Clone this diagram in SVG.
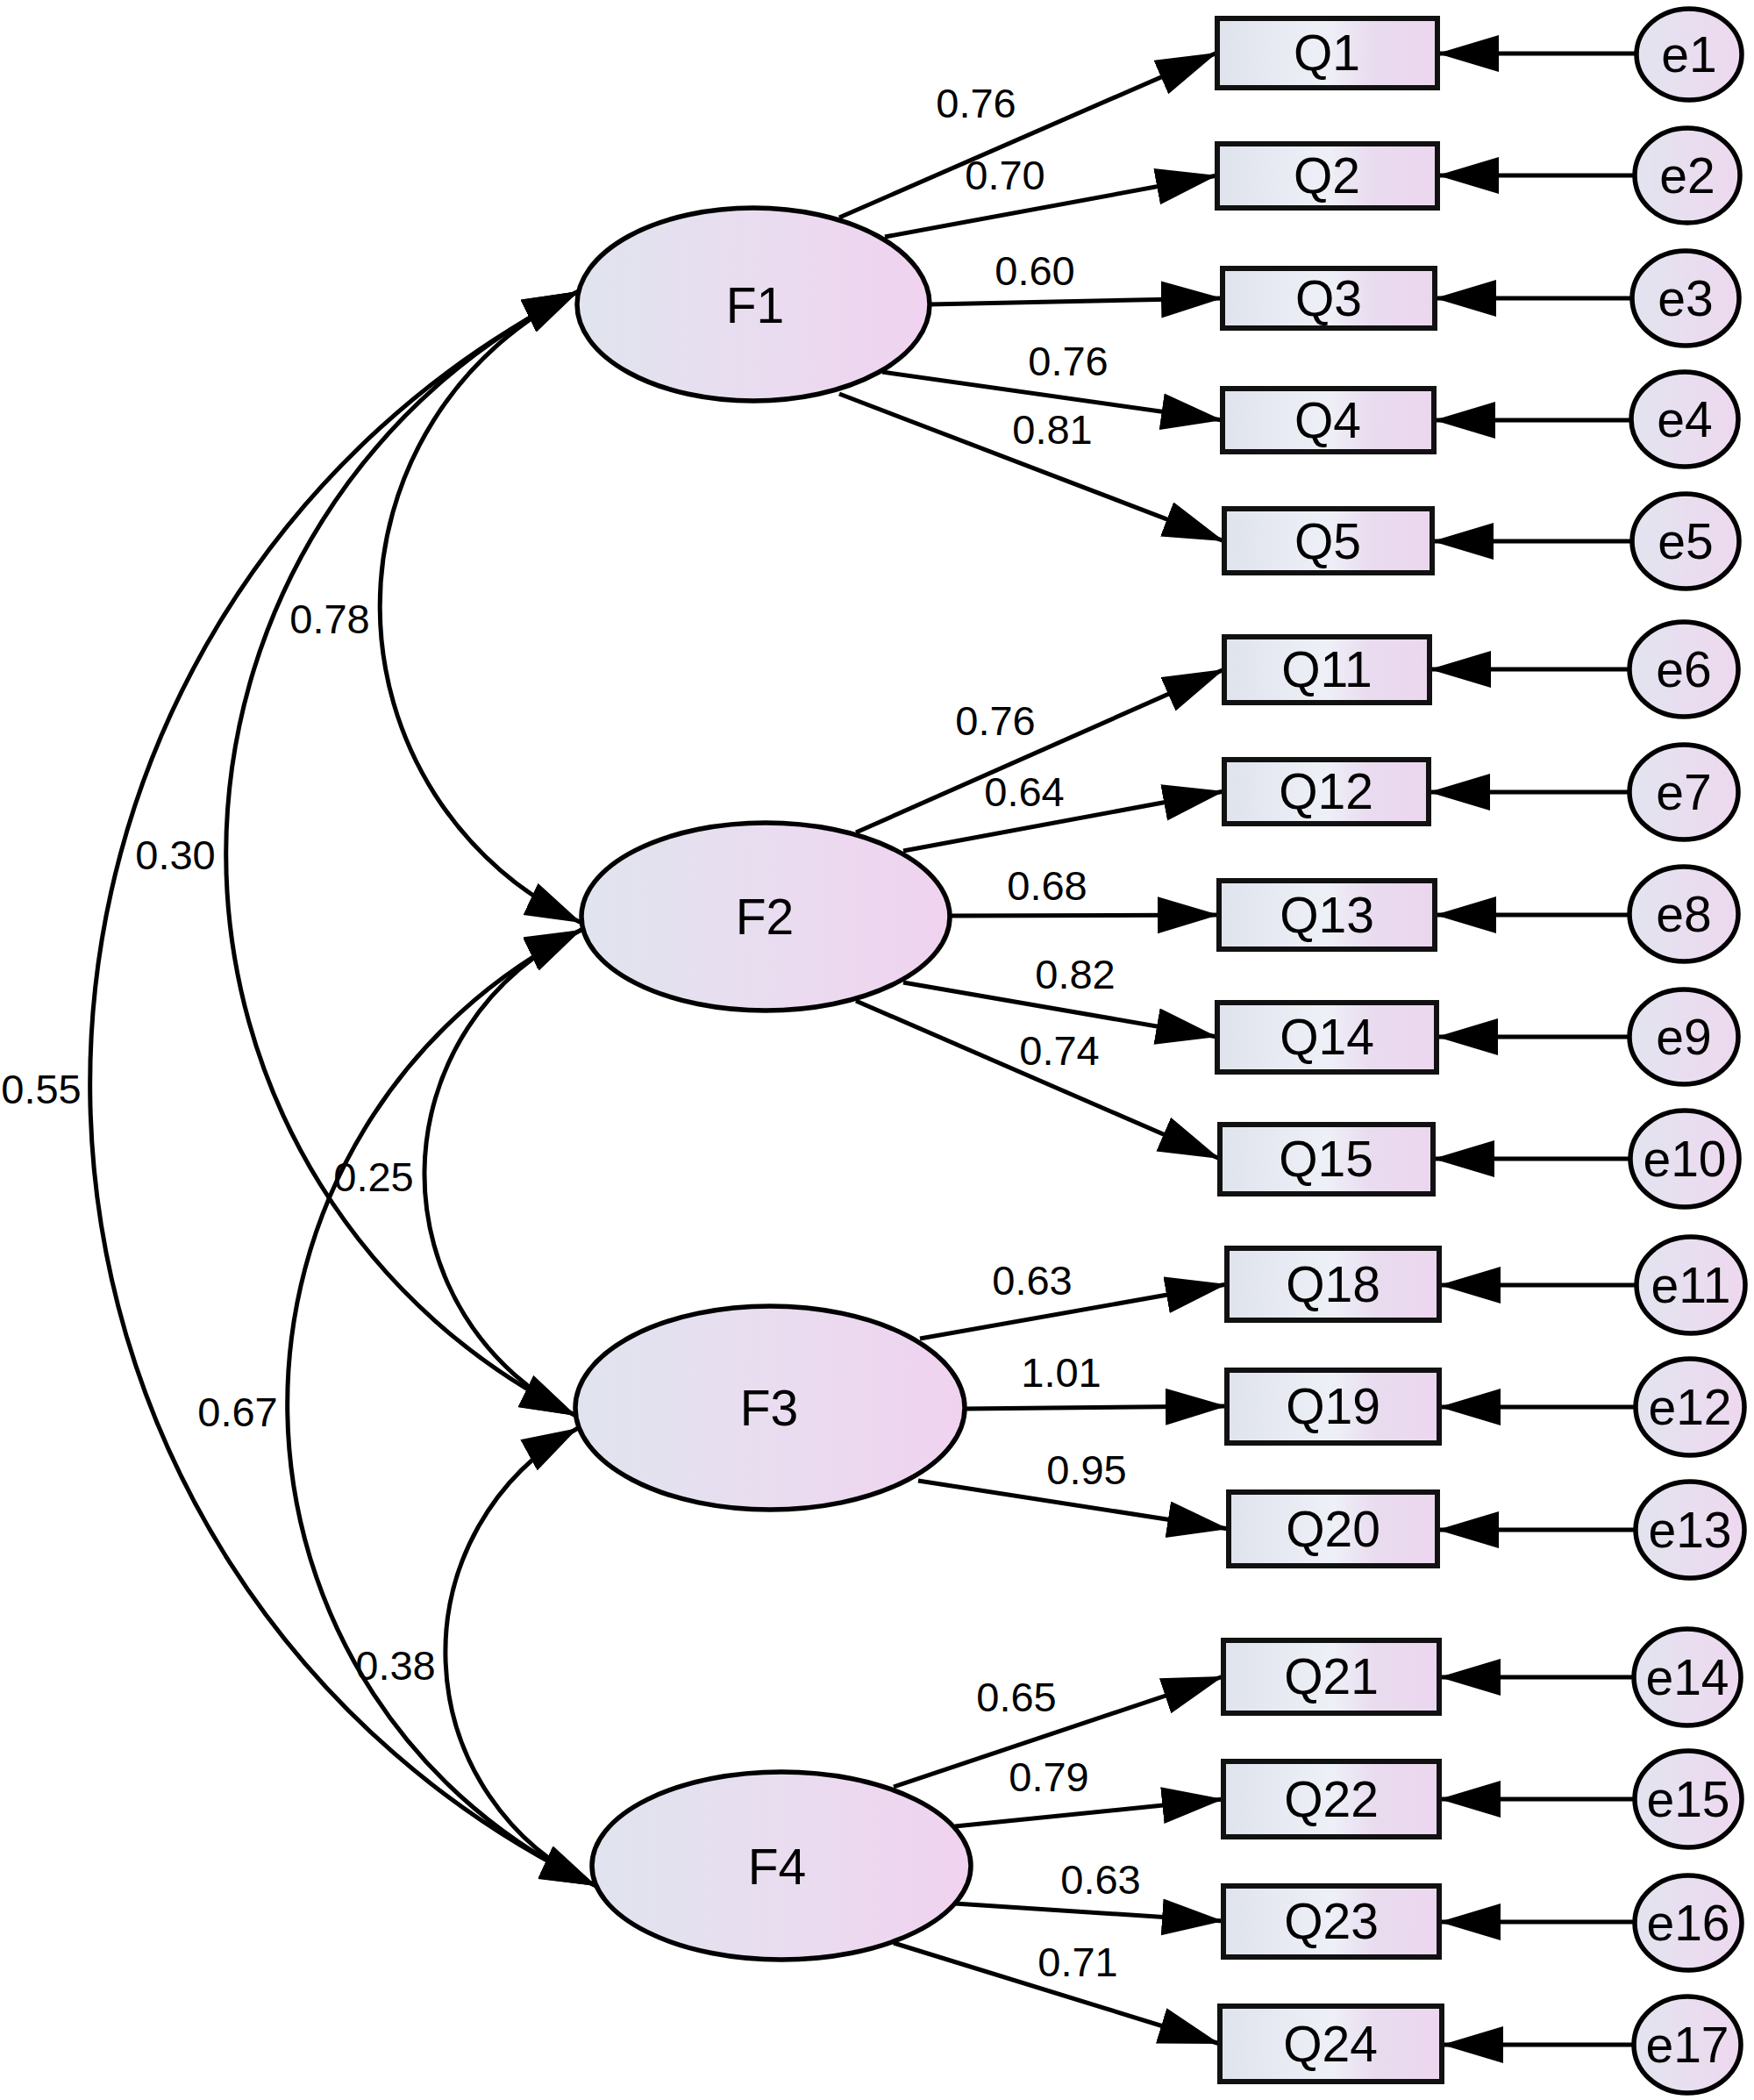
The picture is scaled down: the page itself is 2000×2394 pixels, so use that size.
<svg xmlns="http://www.w3.org/2000/svg" width="2000" height="2394" viewBox="0 0 2000 2394">
<defs>
<linearGradient id="gEll" x1="0" y1="0" x2="1" y2="0">
<stop offset="0" stop-color="#e0e4ee"/>
<stop offset="0.55" stop-color="#eadcf0"/>
<stop offset="1" stop-color="#f0d2ef"/>
</linearGradient>
<linearGradient id="gBox" x1="0" y1="0" x2="1" y2="0">
<stop offset="0" stop-color="#dfe3ec"/>
<stop offset="0.5" stop-color="#eef0f7"/>
<stop offset="0.7" stop-color="#e9dcef"/>
<stop offset="1" stop-color="#ecd6ef"/>
</linearGradient>
<linearGradient id="gErr" x1="0" y1="0" x2="1" y2="0">
<stop offset="0" stop-color="#e2e4ef"/>
<stop offset="1" stop-color="#eed8ef"/>
</linearGradient>
<marker id="ah" markerUnits="userSpaceOnUse" markerWidth="72" markerHeight="44" refX="70" refY="21" orient="auto-start-reverse" viewBox="0 0 72 44">
<path d="M0,0 L70,21 L0,42 z" fill="#000"/>
</marker>
<marker id="ahc" markerUnits="userSpaceOnUse" markerWidth="68" markerHeight="42" refX="64" refY="20" orient="auto-start-reverse" viewBox="0 0 68 42">
<path d="M0,0 L64,20 L0,40 z" fill="#000"/>
</marker>
</defs>
<style>
.lat{fill:url(#gEll);stroke:#000;stroke-width:5.5}
.box{fill:url(#gBox);stroke:#111;stroke-width:6}
.err{fill:url(#gErr);stroke:#000;stroke-width:5.5}
.lbl{font-family:"Liberation Sans",Arial,sans-serif;font-size:57px;fill:#000;text-anchor:middle}
.num{font-family:"Liberation Sans",Arial,sans-serif;font-size:47px;fill:#000;text-anchor:middle}
.ln{fill:none;stroke:#000;stroke-width:5;marker-end:url(#ah)}
.cv{fill:none;stroke:#000;stroke-width:5;marker-start:url(#ahc);marker-end:url(#ahc)}
</style>
<rect width="2000" height="2394" fill="#fff"/>

<g id="connectors">
<path class="cv" d="M660,332 A398,398 0 0 0 663,1052"/>
<path class="cv" d="M660,332 A713,713 0 0 0 657,1614"/>
<path class="cv" d="M660,332 A1012,1012 0 0 0 680,2150"/>
<path class="cv" d="M663,1060 A306,306 0 0 0 657,1614"/>
<path class="cv" d="M663,1060 A604,604 0 0 0 680,2150"/>
<path class="cv" d="M659,1628 A292,292 0 0 0 680,2150"/>
<line class="ln" x1="957" y1="248" x2="1388" y2="60"/>
<line class="ln" x1="1009" y1="270" x2="1388" y2="200"/>
<line class="ln" x1="1060" y1="347" x2="1394" y2="340"/>
<line class="ln" x1="1006" y1="424" x2="1394" y2="479"/>
<line class="ln" x1="957" y1="449" x2="1396" y2="617"/>
<line class="ln" x1="976" y1="949" x2="1396" y2="763"/>
<line class="ln" x1="1030" y1="970" x2="1396" y2="902"/>
<line class="ln" x1="1084" y1="1044" x2="1390" y2="1043"/>
<line class="ln" x1="1030" y1="1120" x2="1388" y2="1182"/>
<line class="ln" x1="976" y1="1141" x2="1391" y2="1321"/>
<line class="ln" x1="1049" y1="1526" x2="1399" y2="1464"/>
<line class="ln" x1="1100" y1="1606" x2="1399" y2="1603"/>
<line class="ln" x1="1047" y1="1688" x2="1401" y2="1743"/>
<line class="ln" x1="1019" y1="2037" x2="1395" y2="1911"/>
<line class="ln" x1="1089" y1="2082" x2="1395" y2="2051"/>
<line class="ln" x1="1089" y1="2170" x2="1395" y2="2190"/>
<line class="ln" x1="1019" y1="2215" x2="1391" y2="2330"/>
<line class="ln" x1="1866" y1="61" x2="1639" y2="61"/>
<line class="ln" x1="1864" y1="200" x2="1639" y2="200"/>
<line class="ln" x1="1861" y1="340" x2="1636" y2="340"/>
<line class="ln" x1="1860" y1="479" x2="1635" y2="479"/>
<line class="ln" x1="1860" y1="617" x2="1633" y2="617"/>
<line class="ln" x1="1859" y1="763" x2="1630" y2="763"/>
<line class="ln" x1="1859" y1="903" x2="1629" y2="903"/>
<line class="ln" x1="1859" y1="1043" x2="1636" y2="1043"/>
<line class="ln" x1="1859" y1="1182" x2="1638" y2="1182"/>
<line class="ln" x1="1860" y1="1321" x2="1634" y2="1321"/>
<line class="ln" x1="1867" y1="1465" x2="1641" y2="1465"/>
<line class="ln" x1="1866" y1="1604" x2="1641" y2="1604"/>
<line class="ln" x1="1866" y1="1744" x2="1639" y2="1744"/>
<line class="ln" x1="1863" y1="1912" x2="1641" y2="1912"/>
<line class="ln" x1="1864" y1="2051" x2="1641" y2="2051"/>
<line class="ln" x1="1864" y1="2191" x2="1641" y2="2191"/>
<line class="ln" x1="1863" y1="2331" x2="1644" y2="2331"/>
<text class="num" x="376" y="722">0.78</text>
<text class="num" x="200" y="991">0.30</text>
<text class="num" x="47" y="1258">0.55</text>
<text class="num" x="426" y="1358">0.25</text>
<text class="num" x="271" y="1626">0.67</text>
<text class="num" x="451" y="1915">0.38</text>
<text class="num" x="1113" y="134">0.76</text>
<text class="num" x="1146" y="216">0.70</text>
<text class="num" x="1180" y="325">0.60</text>
<text class="num" x="1218" y="428">0.76</text>
<text class="num" x="1200" y="506">0.81</text>
<text class="num" x="1135" y="838">0.76</text>
<text class="num" x="1168" y="919">0.64</text>
<text class="num" x="1194" y="1026">0.68</text>
<text class="num" x="1226" y="1127">0.82</text>
<text class="num" x="1208" y="1214">0.74</text>
<text class="num" x="1177" y="1476">0.63</text>
<text class="num" x="1210" y="1581">1.01</text>
<text class="num" x="1239" y="1692">0.95</text>
<text class="num" x="1159" y="1951">0.65</text>
<text class="num" x="1196" y="2042">0.79</text>
<text class="num" x="1255" y="2159">0.63</text>
<text class="num" x="1229" y="2253">0.71</text>
</g>

<g id="F1"><ellipse class="lat" cx="859" cy="347" rx="201" ry="110"/><text class="lbl" x="861" y="368">F1</text></g>
<g id="F2"><ellipse class="lat" cx="873" cy="1045" rx="210" ry="107"/><text class="lbl" x="872" y="1065">F2</text></g>
<g id="F3"><ellipse class="lat" cx="878" cy="1605" rx="222" ry="116"/><text class="lbl" x="877" y="1625">F3</text></g>
<g id="F4"><ellipse class="lat" cx="891" cy="2127" rx="216" ry="107"/><text class="lbl" x="886" y="2148">F4</text></g>

<g id="Q1"><rect class="box" x="1388" y="21" width="251" height="79"/><text class="lbl" x="1513" y="80">Q1</text></g>
<g id="Q2"><rect class="box" x="1388" y="164" width="251" height="73"/><text class="lbl" x="1513" y="220">Q2</text></g>
<g id="Q3"><rect class="box" x="1394" y="306" width="242" height="68"/><text class="lbl" x="1515" y="360">Q3</text></g>
<g id="Q4"><rect class="box" x="1394" y="443" width="241" height="72"/><text class="lbl" x="1514" y="499">Q4</text></g>
<g id="Q5"><rect class="box" x="1396" y="580" width="237" height="73"/><text class="lbl" x="1514" y="637">Q5</text></g>
<g id="Q11"><rect class="box" x="1396" y="726" width="234" height="75"/><text class="lbl" x="1513" y="783">Q11</text></g>
<g id="Q12"><rect class="box" x="1396" y="866" width="233" height="73"/><text class="lbl" x="1512" y="922">Q12</text></g>
<g id="Q13"><rect class="box" x="1390" y="1004" width="246" height="78"/><text class="lbl" x="1513" y="1063">Q13</text></g>
<g id="Q14"><rect class="box" x="1388" y="1143" width="250" height="79"/><text class="lbl" x="1513" y="1202">Q14</text></g>
<g id="Q15"><rect class="box" x="1391" y="1282" width="243" height="79"/><text class="lbl" x="1512" y="1341">Q15</text></g>
<g id="Q18"><rect class="box" x="1399" y="1423" width="242" height="82"/><text class="lbl" x="1520" y="1484">Q18</text></g>
<g id="Q19"><rect class="box" x="1399" y="1562" width="242" height="83"/><text class="lbl" x="1520" y="1623">Q19</text></g>
<g id="Q20"><rect class="box" x="1401" y="1701" width="238" height="84"/><text class="lbl" x="1520" y="1763">Q20</text></g>
<g id="Q21"><rect class="box" x="1395" y="1870" width="246" height="83"/><text class="lbl" x="1518" y="1931">Q21</text></g>
<g id="Q22"><rect class="box" x="1395" y="2008" width="246" height="86"/><text class="lbl" x="1518" y="2071">Q22</text></g>
<g id="Q23"><rect class="box" x="1395" y="2150" width="246" height="81"/><text class="lbl" x="1518" y="2210">Q23</text></g>
<g id="Q24"><rect class="box" x="1391" y="2287" width="253" height="86"/><text class="lbl" x="1517" y="2350">Q24</text></g>

<g id="e1"><ellipse class="err" cx="1926" cy="62" rx="60" ry="52"/><text class="lbl" x="1926" y="82">e1</text></g>
<g id="e2"><ellipse class="err" cx="1924" cy="200" rx="60" ry="54"/><text class="lbl" x="1924" y="220">e2</text></g>
<g id="e3"><ellipse class="err" cx="1922" cy="340" rx="61" ry="54"/><text class="lbl" x="1922" y="360">e3</text></g>
<g id="e4"><ellipse class="err" cx="1921" cy="478" rx="61" ry="54"/><text class="lbl" x="1921" y="498">e4</text></g>
<g id="e5"><ellipse class="err" cx="1922" cy="617" rx="61" ry="54"/><text class="lbl" x="1922" y="637">e5</text></g>
<g id="e6"><ellipse class="err" cx="1920" cy="763" rx="62" ry="54"/><text class="lbl" x="1920" y="783">e6</text></g>
<g id="e7"><ellipse class="err" cx="1920" cy="903" rx="62" ry="54"/><text class="lbl" x="1920" y="923">e7</text></g>
<g id="e8"><ellipse class="err" cx="1920" cy="1042" rx="62" ry="54"/><text class="lbl" x="1920" y="1062">e8</text></g>
<g id="e9"><ellipse class="err" cx="1920" cy="1182" rx="62" ry="54"/><text class="lbl" x="1920" y="1202">e9</text></g>
<g id="e10"><ellipse class="err" cx="1921" cy="1321" rx="62" ry="55"/><text class="lbl" x="1921" y="1341">e10</text></g>
<g id="e11"><ellipse class="err" cx="1928" cy="1465" rx="62" ry="55"/><text class="lbl" x="1928" y="1485">e11</text></g>
<g id="e12"><ellipse class="err" cx="1927" cy="1604" rx="62" ry="55"/><text class="lbl" x="1927" y="1624">e12</text></g>
<g id="e13"><ellipse class="err" cx="1927" cy="1744" rx="62" ry="55"/><text class="lbl" x="1927" y="1764">e13</text></g>
<g id="e14"><ellipse class="err" cx="1924" cy="1912" rx="61" ry="55"/><text class="lbl" x="1924" y="1932">e14</text></g>
<g id="e15"><ellipse class="err" cx="1925" cy="2051" rx="61" ry="55"/><text class="lbl" x="1925" y="2071">e15</text></g>
<g id="e16"><ellipse class="err" cx="1925" cy="2192" rx="61" ry="54"/><text class="lbl" x="1925" y="2212">e16</text></g>
<g id="e17"><ellipse class="err" cx="1924" cy="2331" rx="61" ry="55"/><text class="lbl" x="1924" y="2351">e17</text></g>
</svg>
